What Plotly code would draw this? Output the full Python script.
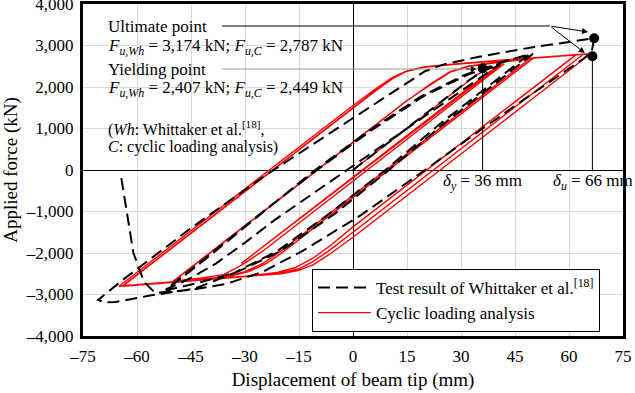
import plotly.graph_objects as go

FONT = '"Liberation Serif", "Times New Roman", Times, serif'

# ---- Cyclic loading analysis (red) : displacement (mm), force (kN)
red_x = [0, 20, 30, 34, 36.5, 39, 41,
         -31,
         34, 38, 41, 42,
         -25, -31, -36, -42, -50,
         15, 22, 27, 32, 40, 49,
         -12, -20, -25, -30, -36, -50,
         15, 22, 27, 32, 40, 50,
         -11, -19, -24, -29, -35, -45, -64,
         0, 6, 11, 15, 20, 30, 45, 64,
         0, -6, -11, -15, -20, -30, -45, -65,
         0, 6, 11, 15, 20, 30, 45, 62,
         0, -6, -11, -16, -21, -30, -45, -64,
         0, 6, 11, 15, 20, 30, 45, 66,
         0, -6, -11, -15, -20, -30, -45, -64]
red_y = [0, 1340, 2010, 2270, 2400, 2480, 2530,
         -2250,
         2100, 2370, 2510, 2560,
         -1950, -2300, -2520, -2600, -2680,
         1675, 2080, 2360, 2490, 2590, 2673,
         -1410, -1950, -2250, -2450, -2580, -2690,
         1670, 2100, 2370, 2500, 2600, 2690,
         -1400, -1950, -2250, -2450, -2580, -2660, -2790,
         1500, 1900, 2200, 2380, 2480, 2560, 2660, 2790,
         -1500, -1900, -2200, -2380, -2480, -2560, -2660, -2800,
         1555, 1940, 2230, 2390, 2490, 2570, 2670, 2780,
         -1370, -1800, -2120, -2350, -2470, -2560, -2670, -2800,
         1490, 1890, 2200, 2380, 2480, 2560, 2660, 2800,
         -1620, -2000, -2280, -2420, -2500, -2570, -2670, -2800]

# ---- Test result of Whittaker et al. (black dashed)
test_x = [0, 12, 24, 32, 36, 41,
          30, 10, -10, -22, -30, -38, -45, -52,
          -40, -25, -10, 5, 20, 32, 42, 50,
          39, 25, 10, -5, -20, -32, -43, -52,
          -40, -25, -11, 4, 19, 31, 42, 49,
          38, 24, 9, -7, -21, -33, -44, -56, -66, -69, -70.8,
          -64, -45, -25, -0.8, 15, 20, 25, 35, 50, 67,
          66.3, 64, 50, 36, 20, 2, -14, -25, -35, -45, -55,
          -58, -61, -63.3, -64.4]
test_y = [0, 800, 1600, 2150, 2380, 2560,
          1900, 700, -500, -1220, -1750, -2250, -2600, -2880,
          -2050, -1000, 0, 950, 1800, 2300, 2620, 2800,
          2050, 1100, 0, -1050, -1950, -2450, -2720, -2900,
          -2080, -1030, -30, 920, 1780, 2290, 2610, 2790,
          2050, 1100, 0, -1080, -1950, -2480, -2860, -3020, -3180, -3190, -3130,
          -2650, -1400, -169, 1205, 2096, 2380, 2540, 2730, 2960, 3174,
          2850, 2680, 1850, 1000, 0, -1100, -1950, -2450, -2740, -2890, -2960,
          -2700, -2000, -795, -169]

# key points
yield_pt = (36, 2449)
ult_pts_x = [67, 66.5]
ult_pts_y = [3174, 2740]

x_ticks = [-75, -60, -45, -30, -15, 0, 15, 30, 45, 60, 75]
x_ticktext = ["–75", "–60", "–45", "–30", "–15", "0", "15", "30", "45", "60", "75"]
y_ticks = [-4000, -3000, -2000, -1000, 0, 1000, 2000, 3000, 4000]
y_ticktext = ["–4,000", "–3,000", "–2,000", "–1,000", "0", "1,000", "2,000", "3,000", "4,000"]

fig = go.Figure()
fig.add_trace(go.Scatter(x=red_x, y=red_y, mode="lines", name="Cyclic loading analysis",
                         line=dict(color="#ff0000", width=1.4), legendrank=2))
fig.add_trace(go.Scatter(x=test_x, y=test_y, mode="lines",
                         name="Test result of Whittaker et al.<sup>[18]</sup>",
                         line=dict(color="black", width=2, dash="12px,6px"), legendrank=1))
fig.add_trace(go.Scatter(x=[yield_pt[0]] + ult_pts_x, y=[yield_pt[1]] + ult_pts_y, mode="markers",
                         marker=dict(color="black", size=10), showlegend=False))

shapes = [
    dict(type="line", x0=yield_pt[0], x1=yield_pt[0], y0=0, y1=yield_pt[1], line=dict(color="black", width=1)),
    dict(type="line", x0=ult_pts_x[1], x1=ult_pts_x[1], y0=0, y1=ult_pts_y[1], line=dict(color="black", width=1)),
    dict(type="line", x0=-36.4, x1=54.7, y0=3470, y1=3470, line=dict(color="black", width=1)),
    dict(type="line", x0=-36.4, x1=32, y0=2434, y1=2434, line=dict(color="#999999", width=1.2)),
]

def txt(x, y, s, size=17, anchor="left"):
    return dict(x=x, y=y, xref="x", yref="y", text=s, showarrow=False, xanchor=anchor, yanchor="middle",
                font=dict(family=FONT, size=size, color="black"))

def arrow(x, y, ax, ay):
    return dict(x=x, y=y, ax=ax, ay=ay, xref="x", yref="y", axref="x", ayref="y", text="",
                showarrow=True, arrowhead=2, arrowsize=1.2, arrowwidth=1, arrowcolor="black", standoff=0)

annotations = [
    txt(-68.6, 3446, "Ultimate point"),
    txt(-68.6, 2964, "<i>F</i><sub><i>u,Wh</i></sub> = 3,174 kN; <i>F</i><sub><i>u,C</i></sub> = 2,787 kN"),
    txt(-68.6, 2410, "Yielding point"),
    txt(-68.6, 1952, "<i>F</i><sub><i>u,Wh</i></sub> = 2,407 kN; <i>F</i><sub><i>u,C</i></sub> = 2,449 kN"),
    txt(-68.6, 1012, "(<i>Wh</i>: Whittaker et al.<sup>[18]</sup>,", size=16),
    txt(-68.6, 565, "<i>C</i>: cyclic loading analysis)", size=16),
    txt(36, -290, "<i>δ</i><sub><i>y</i></sub> = 36 mm", anchor="center"),
    txt(66.8, -290, "<i>δ</i><sub><i>u</i></sub> = 66 mm", anchor="center"),
    arrow(65.3, 3325, 54.7, 3470),
    arrow(64.4, 2819, 54.7, 3470),
    arrow(34.4, 2434, 31, 2434),
]

axis_common = dict(showgrid=True, gridcolor="#d9d9d9", gridwidth=1, zeroline=True, zerolinecolor="black",
                   zerolinewidth=1, showline=True, linecolor="black", linewidth=3, mirror=True,
                   ticks="", automargin=False, ticklabeloverflow="allow",
                   tickfont=dict(family=FONT, size=17, color="black"))

fig.update_layout(
    width=635, height=393, margin=dict(l=83, r=12, t=4, b=57),
    paper_bgcolor="white", plot_bgcolor="white",
    font=dict(family=FONT, color="black"),
    xaxis=dict(range=[-75, 75], tickvals=x_ticks, ticktext=x_ticktext, ticklabelstandoff=3,
               title=dict(text="Displacement of beam tip (mm)", font=dict(family=FONT, size=19), standoff=8),
               **axis_common),
    yaxis=dict(range=[-4000, 4000], tickvals=y_ticks, ticktext=y_ticktext, ticklabelstandoff=3,
               title=dict(text="Applied force (kN)", font=dict(family=FONT, size=19), standoff=9),
               **axis_common),
    legend=dict(x=0.424, y=0.012, xanchor="left", yanchor="bottom", bordercolor="black", borderwidth=1,
                bgcolor="white", font=dict(family=FONT, size=17, color="black"), itemwidth=53,
                tracegroupgap=0),
    shapes=shapes, annotations=annotations,
)

fig.write_html("out.html", config={"displayModeBar": False},
               post_script="document.body.style.margin='0';document.body.style.padding='0';")
